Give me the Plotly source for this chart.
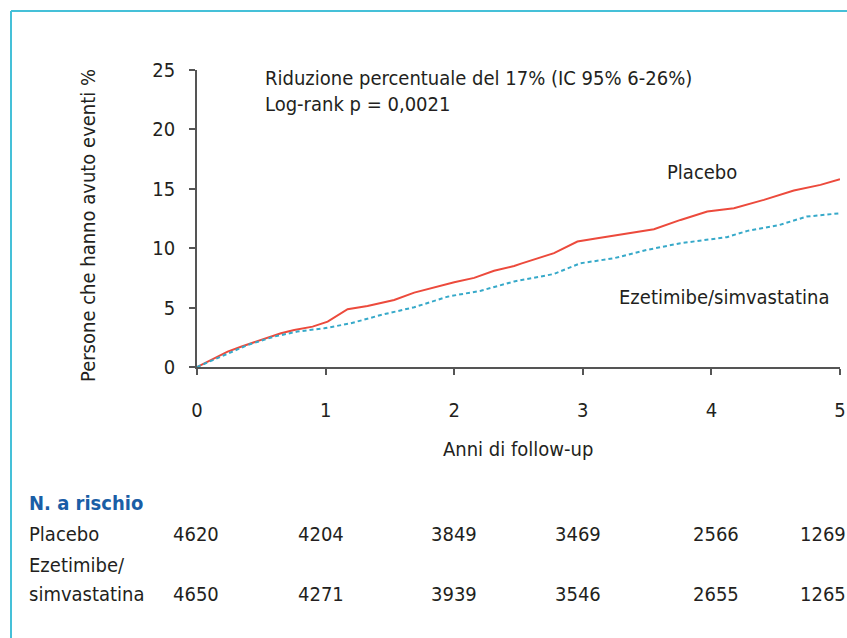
import plotly.graph_objects as go

# ---- data ----
years = [0, 1, 2, 3, 4, 5]
placebo_t = [0, 0.135, 0.238, 0.342, 0.523, 0.653, 0.756, 0.899, 1.016, 1.171, 1.326, 1.533, 1.689,
             1.844, 2.0, 2.155, 2.31, 2.466, 2.52, 2.776, 2.958, 3.113, 3.372, 3.553, 3.76, 3.968,
             4.175, 4.408, 4.641, 4.848, 5.0]
placebo_v = [0, 0.73, 1.29, 1.71, 2.33, 2.84, 3.12, 3.40, 3.82, 4.86, 5.14, 5.64, 6.26,
             6.71, 7.14, 7.5, 8.1, 8.5, 8.7, 9.58, 10.56, 10.84, 11.26, 11.6, 12.38, 13.09,
             13.37, 14.07, 14.85, 15.33, 15.8]
eze_t = [0, 0.186, 0.394, 0.60, 0.78, 0.99, 1.197, 1.43, 1.689, 1.948, 2.207, 2.466, 2.776,
         2.98, 3.24, 3.50, 3.76, 4.12, 4.28, 4.53, 4.74, 5.0]
eze_v = [0, 0.87, 1.85, 2.56, 2.98, 3.26, 3.68, 4.38, 5.03, 5.92, 6.42, 7.2, 7.83,
         8.73, 9.15, 9.86, 10.42, 10.93, 11.46, 11.96, 12.66, 12.94]
y_ticks = [0, 5, 10, 15, 20, 25]
risk_placebo = [4620, 4204, 3849, 3469, 2566, 1269]
risk_eze = [4650, 4271, 3939, 3546, 2655, 1265]

W, H = 847, 638
L, R, T, B = 197, 840, 70, 367  # plot area pixel bounds

FONT = "Liberation Sans Narrow, DejaVu Sans Condensed, Arial Narrow, sans-serif"
TXT = "#231f20"
AX = "#555555"


def px(x):
    return (x - L) / (R - L)


def py(y):
    return (B - y) / (B - T)


fig = go.Figure()
fig.add_trace(go.Scatter(x=placebo_t, y=placebo_v, mode="lines",
                         line=dict(color="#ec4a3c", width=2), name="Placebo"))
fig.add_trace(go.Scatter(x=eze_t, y=eze_v, mode="lines",
                         line=dict(color="#36a9c9", width=2, dash="4px,3px"),
                         name="Ezetimibe/simvastatina"))

ann = []


def add(text, x, y, xanchor="left", size=20, color=TXT, bold=False, angle=0):
    t = f"<b>{text}</b>" if bold else text
    ann.append(dict(text=t, x=px(x), y=py(y), xref="paper", yref="paper",
                    xanchor=xanchor, yanchor="middle", showarrow=False,
                    textangle=angle, font=dict(family=FONT, size=size, color=color)))


add("Riduzione percentuale del 17% (IC 95% 6-26%)", 263, 78)
add("Log-rank p = 0,0021", 263, 104)
add("Placebo", 665, 172)
add("Ezetimibe/simvastatina", 617, 297)
add("Anni di follow-up", 518, 449, xanchor="center")
add("Persone che hanno avuto eventi %", 88, 226, xanchor="center", angle=-90)
add("N. a rischio", 27, 503, color="#1a5ea6", bold=True)
add("Placebo", 27, 534)
add("Ezetimibe/", 27, 565)
add("simvastatina", 27, 594)

col_x = [196, 321, 454, 578, 716, 823]
for cx, a, b in zip(col_x, risk_placebo, risk_eze):
    add(str(a), cx, 534, xanchor="center")
    add(str(b), cx, 594, xanchor="center")

frame_col = "#45c0d8"
shapes = [
    dict(type="line", xref="paper", yref="paper", x0=px(11), x1=px(847), y0=py(11), y1=py(11),
         line=dict(color=frame_col, width=2)),
    dict(type="line", xref="paper", yref="paper", x0=px(11), x1=px(11), y0=py(11), y1=py(638),
         line=dict(color=frame_col, width=2)),
]

fig.update_layout(
    width=W, height=H,
    margin=dict(l=L, r=W - R, t=T, b=H - B, autoexpand=False),
    paper_bgcolor="white", plot_bgcolor="white",
    showlegend=False,
    annotations=ann, shapes=shapes,
    font=dict(family=FONT, size=20, color=TXT),
    xaxis=dict(range=[0, 5], tickvals=years, showline=True, linecolor=AX, linewidth=1.5,
               ticks="outside", ticklen=6, tickcolor=AX, tickwidth=1.5, showgrid=False,
               zeroline=False, ticklabelstandoff=18, automargin=False,
               tickfont=dict(family=FONT, size=20, color=TXT)),
    yaxis=dict(range=[0, 25], tickvals=y_ticks, showline=True, linecolor=AX, linewidth=1.5,
               ticks="outside", ticklen=6, tickcolor=AX, tickwidth=1.5, showgrid=False,
               zeroline=False, ticklabelstandoff=10, automargin=False,
               tickfont=dict(family=FONT, size=20, color=TXT)),
)

fig.write_html("out.html", config={"displayModeBar": False},
               post_script="document.body.style.margin='0';document.body.style.padding='0';")
